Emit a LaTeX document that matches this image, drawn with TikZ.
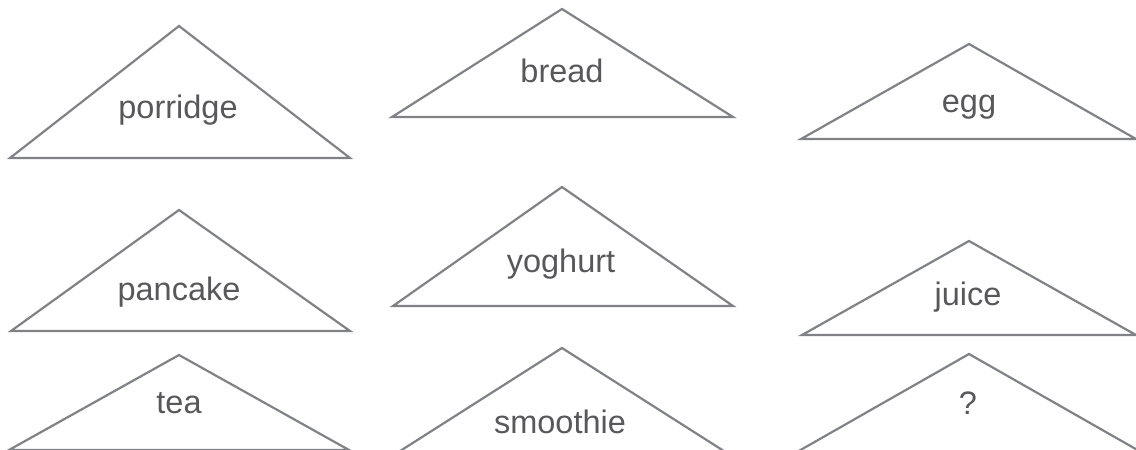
\documentclass[tikz,border=0pt]{standalone}
\usepackage{fontspec}
\setmainfont{Liberation Sans}
\definecolor{edgegray}{RGB}{128,130,134}
\definecolor{txtgray}{RGB}{88,88,91}
\begin{document}
\begin{tikzpicture}[x=1pt,y=-1pt,
  tri/.style={draw=edgegray,line width=2.2pt,line join=miter},
  lbl/.style={anchor=base,text=txtgray,font=\fontsize{32.5}{38}\selectfont,inner sep=0pt}]
\useasboundingbox (0,0) rectangle (1136,450);
\clip (0,0) rectangle (1136,450);
% row 1
\draw[tri] (179,26) coordinate (porridgeTop) -- (10,158) -- (350,158) -- cycle;
\draw[tri] (562,9) coordinate (breadTop) -- (392,117) -- (733,117) -- cycle;
\draw[tri] (969,44) coordinate (eggTop) -- (801,139) -- (1136,139) -- cycle;
% row 2
\draw[tri] (179,210) coordinate (pancakeTop) -- (11,331) -- (350,331) -- cycle;
\draw[tri] (562,187) coordinate (yoghurtTop) -- (393,306) -- (733,306) -- cycle;
\draw[tri] (969,241) coordinate (juiceTop) -- (802,335) -- (1136,335) -- cycle;
% row 3 (cut by the lower edge)
\draw[tri] (179,355) coordinate (teaTop) -- (9,450) -- (349,450) -- cycle;
\draw[tri] (562,348) coordinate (smoothieTop) -- (386,460) -- (738,460) -- cycle;
\draw[tri] (969,354) coordinate (qTop) -- (783,460) -- (1155,460) -- cycle;
% labels
\node[lbl] (porridge) at (178,118) {porridge};
\node[lbl] (bread) at (562,82) {bread};
\node[lbl] (egg) at (969,112) {egg};
\node[lbl] (pancake) at (179,300) {pancake};
\node[lbl] (yoghurt) at (561,272) {yoghurt};
\node[lbl] (juice) at (968,305) {juice};
\node[lbl] (tea) at (179,413) {tea};
\node[lbl] (smoothie) at (560,433) {smoothie};
\node[lbl] (q) at (968,414) {?};
\end{tikzpicture}
\end{document}
